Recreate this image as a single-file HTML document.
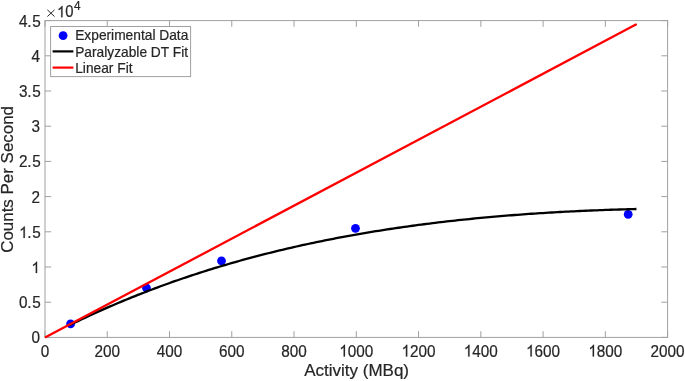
<!DOCTYPE html>
<html><head><meta charset="utf-8"><style>
html,body{margin:0;padding:0;background:#fff;}
body{width:685px;height:381px;overflow:hidden;}
svg{display:block;filter:blur(0.3px);}
text{font-family:"Liberation Sans",sans-serif;fill:#262626;stroke:#262626;stroke-width:0.2px;}
</style></head><body>
<svg width="685" height="381" viewBox="0 0 685 381">
<rect x="0" y="0" width="685" height="381" fill="#fff"/>

<rect x="45.0" y="20.6" width="622.6" height="316.79999999999995" fill="none" stroke="#a0a0a0" stroke-width="1"/>
<path d="M45.00 337.4V331.2M45.00 20.6V26.8M107.26 337.4V331.2M107.26 20.6V26.8M169.52 337.4V331.2M169.52 20.6V26.8M231.78 337.4V331.2M231.78 20.6V26.8M294.04 337.4V331.2M294.04 20.6V26.8M356.30 337.4V331.2M356.30 20.6V26.8M418.56 337.4V331.2M418.56 20.6V26.8M480.82 337.4V331.2M480.82 20.6V26.8M543.08 337.4V331.2M543.08 20.6V26.8M605.34 337.4V331.2M605.34 20.6V26.8M667.60 337.4V331.2M667.60 20.6V26.8M45.0 337.40H51.2M667.6 337.40H661.4M45.0 302.20H51.2M667.6 302.20H661.4M45.0 267.00H51.2M667.6 267.00H661.4M45.0 231.80H51.2M667.6 231.80H661.4M45.0 196.60H51.2M667.6 196.60H661.4M45.0 161.40H51.2M667.6 161.40H661.4M45.0 126.20H51.2M667.6 126.20H661.4M45.0 91.00H51.2M667.6 91.00H661.4M45.0 55.80H51.2M667.6 55.80H661.4M45.0 20.60H51.2M667.6 20.60H661.4" stroke="#a0a0a0" stroke-width="1" fill="none"/>
<g transform="translate(0 350.72) scale(1 1.06) translate(0 -350.72)"><text x="40.75" y="356.20" font-size="15.3">0</text></g>
<g transform="translate(0 350.72) scale(1 1.06) translate(0 -350.72)"><text x="94.50 103.01 111.51" y="356.20" font-size="15.3">200</text></g>
<g transform="translate(0 350.72) scale(1 1.06) translate(0 -350.72)"><text x="156.76 165.27 173.77" y="356.20" font-size="15.3">400</text></g>
<g transform="translate(0 350.72) scale(1 1.06) translate(0 -350.72)"><text x="219.02 227.53 236.03" y="356.20" font-size="15.3">600</text></g>
<g transform="translate(0 350.72) scale(1 1.06) translate(0 -350.72)"><text x="281.28 289.79 298.29" y="356.20" font-size="15.3">800</text></g>
<g transform="translate(0 350.72) scale(1 1.06) translate(0 -350.72)"><text x="347.79 356.30 364.81" y="356.20" font-size="15.3">000</text><path transform="translate(339.29 356.20) scale(0.007471 -0.007471)" d="M763 0L583 0L583 1147Q518 1085 412 1023Q306 961 222 930L222 1104Q373 1175 486 1276Q599 1377 646 1472L763 1472Z" fill="#262626" stroke="#262626" stroke-width="26.8"/></g>
<g transform="translate(0 350.72) scale(1 1.06) translate(0 -350.72)"><text x="410.05 418.56 427.07" y="356.20" font-size="15.3">200</text><path transform="translate(401.55 356.20) scale(0.007471 -0.007471)" d="M763 0L583 0L583 1147Q518 1085 412 1023Q306 961 222 930L222 1104Q373 1175 486 1276Q599 1377 646 1472L763 1472Z" fill="#262626" stroke="#262626" stroke-width="26.8"/></g>
<g transform="translate(0 350.72) scale(1 1.06) translate(0 -350.72)"><text x="472.31 480.82 489.33" y="356.20" font-size="15.3">400</text><path transform="translate(463.81 356.20) scale(0.007471 -0.007471)" d="M763 0L583 0L583 1147Q518 1085 412 1023Q306 961 222 930L222 1104Q373 1175 486 1276Q599 1377 646 1472L763 1472Z" fill="#262626" stroke="#262626" stroke-width="26.8"/></g>
<g transform="translate(0 350.72) scale(1 1.06) translate(0 -350.72)"><text x="534.57 543.08 551.59" y="356.20" font-size="15.3">600</text><path transform="translate(526.07 356.20) scale(0.007471 -0.007471)" d="M763 0L583 0L583 1147Q518 1085 412 1023Q306 961 222 930L222 1104Q373 1175 486 1276Q599 1377 646 1472L763 1472Z" fill="#262626" stroke="#262626" stroke-width="26.8"/></g>
<g transform="translate(0 350.72) scale(1 1.06) translate(0 -350.72)"><text x="596.83 605.34 613.85" y="356.20" font-size="15.3">800</text><path transform="translate(588.33 356.20) scale(0.007471 -0.007471)" d="M763 0L583 0L583 1147Q518 1085 412 1023Q306 961 222 930L222 1104Q373 1175 486 1276Q599 1377 646 1472L763 1472Z" fill="#262626" stroke="#262626" stroke-width="26.8"/></g>
<g transform="translate(0 350.72) scale(1 1.06) translate(0 -350.72)"><text x="650.59 659.09 667.60 676.11" y="356.20" font-size="15.3">2000</text></g>
<g transform="translate(0 337.82) scale(1 1.035) translate(0 -337.82)"><text x="31.39" y="343.30" font-size="15.3">0</text></g>
<g transform="translate(0 302.62) scale(1 1.035) translate(0 -302.62)"><text x="19.13 27.14 32.19" y="308.10" font-size="15.3">0.5</text></g>
<g transform="translate(0 267.42) scale(1 1.035) translate(0 -267.42)"><path transform="translate(31.39 272.90) scale(0.007471 -0.007471)" d="M763 0L583 0L583 1147Q518 1085 412 1023Q306 961 222 930L222 1104Q373 1175 486 1276Q599 1377 646 1472L763 1472Z" fill="#262626" stroke="#262626" stroke-width="26.8"/></g>
<g transform="translate(0 232.22) scale(1 1.035) translate(0 -232.22)"><text x="27.14 32.19" y="237.70" font-size="15.3">.5</text><path transform="translate(19.13 237.70) scale(0.007471 -0.007471)" d="M763 0L583 0L583 1147Q518 1085 412 1023Q306 961 222 930L222 1104Q373 1175 486 1276Q599 1377 646 1472L763 1472Z" fill="#262626" stroke="#262626" stroke-width="26.8"/></g>
<g transform="translate(0 197.02) scale(1 1.035) translate(0 -197.02)"><text x="31.39" y="202.50" font-size="15.3">2</text></g>
<g transform="translate(0 161.82) scale(1 1.035) translate(0 -161.82)"><text x="19.13 27.14 32.19" y="167.30" font-size="15.3">2.5</text></g>
<g transform="translate(0 126.62) scale(1 1.035) translate(0 -126.62)"><text x="31.39" y="132.10" font-size="15.3">3</text></g>
<g transform="translate(0 91.42) scale(1 1.035) translate(0 -91.42)"><text x="19.13 27.14 32.19" y="96.90" font-size="15.3">3.5</text></g>
<g transform="translate(0 56.22) scale(1 1.035) translate(0 -56.22)"><text x="31.39" y="61.70" font-size="15.3">4</text></g>
<g transform="translate(0 21.02) scale(1 1.035) translate(0 -21.02)"><text x="19.13 27.14 32.19" y="26.50" font-size="15.3">4.5</text></g>
<path d="M47.4 9.9L54.5 16.5M54.5 9.9L47.4 16.5" stroke="#262626" stroke-width="1" fill="none"/>
<g transform="translate(0 11.60) scale(1 1.06) translate(0 -11.60)"><text x="65.23" y="16.90" font-size="14.8">0</text><path transform="translate(57.00 16.90) scale(0.007227 -0.007227)" d="M763 0L583 0L583 1147Q518 1085 412 1023Q306 961 222 930L222 1104Q373 1175 486 1276Q599 1377 646 1472L763 1472Z" fill="#262626" stroke="#262626" stroke-width="27.7"/></g>
<g transform="translate(0 5.48) scale(1 1.1) translate(0 -5.48)"><text x="74.00" y="9.70" font-size="11.8">4</text></g>
<text x="356.6" y="376" font-size="17" text-anchor="middle">Activity (MBq)</text>
<text transform="translate(13.3 179.4) rotate(-90)" x="0" y="0" font-size="16.95" text-anchor="middle">Counts Per Second</text>
<circle cx="70.6" cy="323.9" r="4.4" fill="#0000ff"/>
<circle cx="146.5" cy="288.0" r="4.4" fill="#0000ff"/>
<circle cx="221.5" cy="260.8" r="4.4" fill="#0000ff"/>
<circle cx="355.5" cy="228.3" r="4.4" fill="#0000ff"/>
<circle cx="628.2" cy="214.3" r="4.4" fill="#0000ff"/>
<polyline points="69.90,324.97 72.74,323.58 75.57,322.21 78.40,320.85 81.24,319.51 84.07,318.17 86.90,316.85 89.73,315.53 92.57,314.23 95.40,312.94 98.23,311.67 101.07,310.40 103.90,309.15 106.73,307.90 109.56,306.67 112.40,305.45 115.23,304.23 118.06,303.03 120.89,301.85 123.73,300.67 126.56,299.50 129.39,298.34 132.23,297.19 135.06,296.06 137.89,294.93 140.72,293.82 143.56,292.71 146.39,291.61 149.22,290.53 152.06,289.45 154.89,288.39 157.72,287.33 160.55,286.29 163.39,285.25 166.22,284.23 169.05,283.21 171.89,282.20 174.72,281.21 177.55,280.22 180.38,279.24 183.22,278.27 186.05,277.31 188.88,276.36 191.72,275.42 194.55,274.49 197.38,273.56 200.21,272.65 203.05,271.74 205.88,270.85 208.71,269.96 211.55,269.08 214.38,268.21 217.21,267.35 220.04,266.50 222.88,265.65 225.71,264.82 228.54,263.99 231.38,263.17 234.21,262.36 237.04,261.56 239.87,260.76 242.71,259.97 245.54,259.20 248.37,258.43 251.21,257.66 254.04,256.91 256.87,256.16 259.70,255.42 262.54,254.69 265.37,253.97 268.20,253.25 271.03,252.54 273.87,251.84 276.70,251.15 279.53,250.46 282.37,249.79 285.20,249.11 288.03,248.45 290.86,247.79 293.70,247.15 296.53,246.50 299.36,245.87 302.20,245.24 305.03,244.62 307.86,244.00 310.69,243.40 313.53,242.80 316.36,242.20 319.19,241.62 322.03,241.04 324.86,240.46 327.69,239.90 330.52,239.33 333.36,238.78 336.19,238.23 339.02,237.69 341.86,237.16 344.69,236.63 347.52,236.11 350.35,235.59 353.19,235.08 356.02,234.58 358.85,234.08 361.69,233.59 364.52,233.11 367.35,232.63 370.18,232.15 373.02,231.69 375.85,231.23 378.68,230.77 381.52,230.32 384.35,229.88 387.18,229.44 390.01,229.01 392.85,228.58 395.68,228.16 398.51,227.74 401.35,227.33 404.18,226.93 407.01,226.53 409.84,226.13 412.68,225.74 415.51,225.36 418.34,224.98 421.17,224.61 424.01,224.24 426.84,223.88 429.67,223.52 432.51,223.17 435.34,222.82 438.17,222.48 441.00,222.14 443.84,221.81 446.67,221.48 449.50,221.16 452.34,220.84 455.17,220.53 458.00,220.22 460.83,219.92 463.67,219.62 466.50,219.33 469.33,219.04 472.17,218.75 475.00,218.47 477.83,218.20 480.66,217.92 483.50,217.66 486.33,217.40 489.16,217.14 492.00,216.88 494.83,216.63 497.66,216.39 500.49,216.15 503.33,215.91 506.16,215.68 508.99,215.45 511.83,215.23 514.66,215.01 517.49,214.79 520.32,214.58 523.16,214.37 525.99,214.17 528.82,213.97 531.66,213.77 534.49,213.58 537.32,213.39 540.15,213.21 542.99,213.03 545.82,212.85 548.65,212.68 551.49,212.51 554.32,212.34 557.15,212.18 559.98,212.02 562.82,211.87 565.65,211.72 568.48,211.57 571.31,211.43 574.15,211.29 576.98,211.15 579.81,211.01 582.65,210.88 585.48,210.76 588.31,210.63 591.14,210.51 593.98,210.40 596.81,210.28 599.64,210.17 602.48,210.07 605.31,209.96 608.14,209.86 610.97,209.76 613.81,209.67 616.64,209.58 619.47,209.49 622.31,209.41 625.14,209.32 627.97,209.24 630.80,209.17 633.64,209.09 636.47,209.02" fill="none" stroke="#000" stroke-width="2.3" stroke-linejoin="round"/>
<line x1="45.00" y1="337.60" x2="635.87" y2="24.57" stroke="#ff0000" stroke-width="2.3"/>
<circle cx="635.87" cy="24.57" r="1.15" fill="#ff0000"/>
<rect x="50.6" y="26.5" width="140" height="50.1" fill="#fff" stroke="#a0a0a0" stroke-width="1"/>
<circle cx="63.1" cy="35.6" r="4.4" fill="#0000ff"/>
<line x1="52.6" y1="51.4" x2="73.4" y2="51.4" stroke="#000" stroke-width="2.2"/>
<line x1="52.6" y1="67.6" x2="73.4" y2="67.6" stroke="#ff0000" stroke-width="2.2"/>
<text x="75.2" y="40.35" font-size="13.75">Experimental Data</text>
<text x="75.2" y="56.55" font-size="13.75">Paralyzable DT Fit</text>
<text x="75.2" y="72.75" font-size="13.75">Linear Fit</text>
</svg></body></html>
